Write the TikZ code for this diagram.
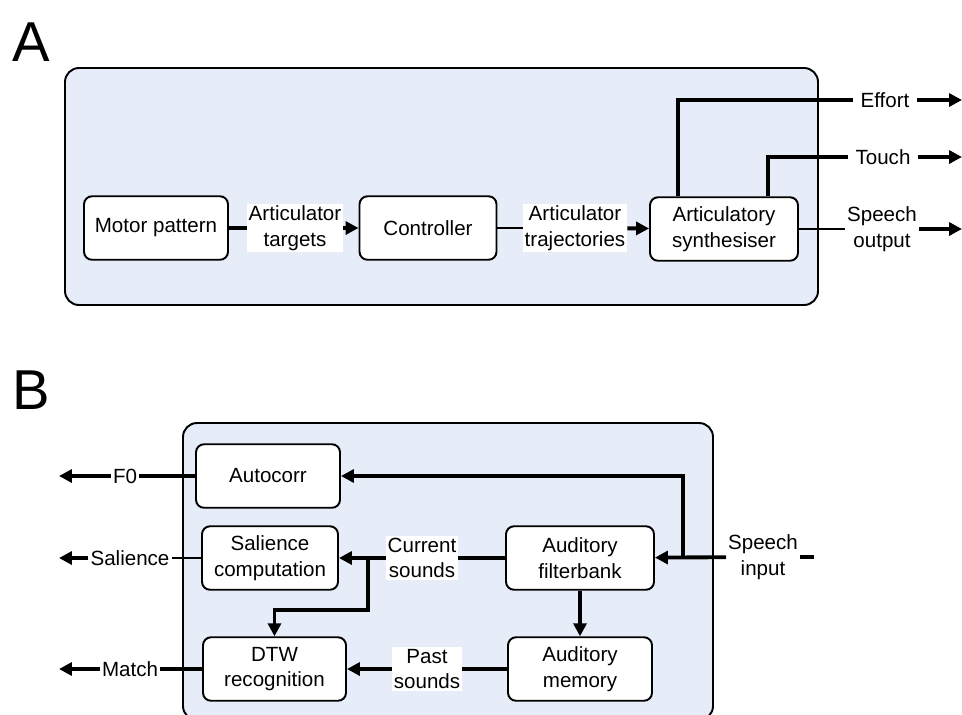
\documentclass[tikz,border=0pt]{standalone}
\usepackage{fontspec}
\setmainfont{Liberation Sans}
\usetikzlibrary{arrows.meta}
\definecolor{panelblue}{RGB}{230,237,248}

\begin{document}
\begin{tikzpicture}[
	x=0.02cm, y=-0.02cm,
	every node/.style={font=\fontsize{11.7}{14.5}\selectfont, align=center},
	block/.style={draw, line width=1.1pt, rounded corners=0.16cm, fill=white, minimum height=1.27cm, inner sep=2pt},
	panel/.style={draw, line width=1.1pt, rounded corners=0.28cm, fill=panelblue},
	tag/.style={fill=white, inner sep=1pt},
	freetag/.style={inner sep=1pt},
	link/.style={line width=2.2pt},
	thinlink/.style={line width=1.2pt},
	tip/.style={-{Triangle[length=2.6mm,width=2.6mm]}},
	letter/.style={font=\fontsize{32}{32}\selectfont}
]
\useasboundingbox (0,0) rectangle (962,714);

% panel A
\node[letter] (lettera) at (31,42) {A};
\draw[panel] (65,68) rectangle (818,305);

\node[block, minimum width=2.88cm] (motor) at (156,228) {Motor pattern};
\node[tag] (tgt) at (295,228) {Articulator\\targets};
\node[block, minimum width=2.74cm] (ctrl) at (428,228) {Controller};
\node[tag] (traj) at (575,228) {Articulator\\trajectories};
\node[block, minimum width=2.96cm] (synth) at (724,229) {Articulatory\\synthesiser};
\node[freetag, inner sep=4pt] (effort) at (885,100) {Effort};
\node[freetag, inner sep=4pt] (touch) at (883,157) {Touch};
\node[freetag] (spout) at (882,229) {Speech\\output};
\coordinate (effortend) at (962,100);
\coordinate (touchend) at (962,157);
\coordinate (spoutend) at (962,229);

\draw[link] (motor) -- (tgt);
\draw[link,tip] (tgt) -- (ctrl);
\draw[thinlink] (ctrl) -- (traj);
\draw[link,tip] (traj) -- (synth);
\draw[link] ([xshift=-0.92cm]synth.north) |- (effort);
\draw[link] ([xshift=0.88cm]synth.north) |- (touch);
\draw[thinlink] (synth) -- (spout);
\draw[link,tip] (effort) -- (effortend);
\draw[link,tip] (touch) -- (touchend);
\draw[link,tip] (spout) -- (spoutend);

% panel B
\node[letter] (letterb) at (31,390) {B};
\draw[panel] (183,423) rectangle (713,720);

\node[block, minimum width=2.88cm] (autocorr) at (268,476) {Autocorr};
\node[block, minimum width=2.72cm] (sal) at (270,558) {Salience\\computation};
\node[block, minimum width=2.86cm] (dtw) at (274.5,669) {DTW\\recognition};
\node[block, minimum width=2.96cm] (fbank) at (580,558) {Auditory\\filterbank};
\node[block, minimum width=2.88cm] (mem) at (580,669) {Auditory\\memory};
\node[tag] (cur) at (422,558) {Current\\sounds};
\node[tag] (past) at (427,669) {Past\\sounds};
\node[freetag] (spin) at (763,557) {Speech\\input};
\node[freetag] (f0) at (125,476) {F0};
\node[freetag] (salout) at (130,558) {Salience};
\node[freetag] (match) at (130,669) {Match};
\coordinate (spinend) at (814,557);
\coordinate (injoin) at (683,557);
\coordinate (curjoin) at (368,558);
\coordinate (curbend) at (274.5,610);
\coordinate (f0end) at (59,476);
\coordinate (salend) at (59,558);
\coordinate (matchend) at (59,669);

\draw[link] (spin) -- (spinend);
\draw[link,tip] (spin) -- (fbank);
\draw[link,tip] (injoin) |- (autocorr);
\draw[link,tip] (fbank) -- (mem);
\draw[link] (fbank) -- (cur);
\draw[link,tip] (cur) -- (sal);
\draw[link,tip] (curjoin) |- (curbend) -- (dtw);
\draw[link] (mem) -- (past);
\draw[link,tip] (past) -- (dtw);
\draw[link] (autocorr) -- (f0);
\draw[link,tip] (f0) -- (f0end);
\draw[thinlink] (sal) -- (salout);
\draw[link,tip] (salout) -- (salend);
\draw[link] (dtw) -- (match);
\draw[link,tip] (match) -- (matchend);

\end{tikzpicture}
\end{document}
